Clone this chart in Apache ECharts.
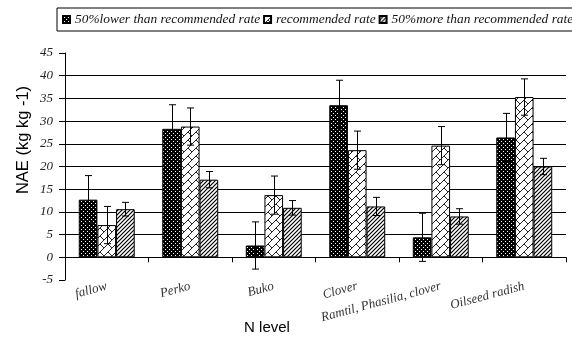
<!DOCTYPE html>
<html>
<head>
<meta charset="utf-8">
<script src="https://cdn.jsdelivr.net/npm/echarts@6/dist/echarts.min.js"></script>
<style>html,body{margin:0;padding:0;background:#fff}#c{width:572px;height:338px}</style>
</head>
<body>
<div id="c"></div>
<script>
var categories = ['fallow', 'Perko', 'Buko', 'Clover', 'Ramtil, Phasilia, clover', 'Oilseed radish'];
var seriesNames = ['50%lower than recommended rate', 'recommended rate', '50%more than recommended rate'];
var lowerRate = [12.7, 28.3, 2.6, 33.5, 4.4, 26.4];
var lowerErr = [5.3, 5.3, 5.2, 5.5, 5.3, 5.3];
var recRate = [7.1, 28.8, 13.7, 23.6, 24.6, 35.3];
var recErr = [4.1, 4.1, 4.2, 4.2, 4.2, 4.0];
var moreRate = [10.6, 17.1, 10.9, 11.2, 9.0, 20.0];
var moreErr = [1.5, 1.8, 1.6, 2.0, 1.7, 1.8];
var yTicks = [-5, 0, 5, 10, 15, 20, 25, 30, 35, 40, 45];

function tile(size, draw) {
  var c = document.createElement('canvas');
  c.width = size; c.height = size;
  var ctx = c.getContext('2d');
  draw(ctx, size);
  return c;
}
var patDots = tile(4, function (ctx) {
  ctx.fillStyle = '#000'; ctx.fillRect(0, 0, 4, 4);
  ctx.fillStyle = '#fff';
  ctx.fillRect(1, 1, 1, 1); ctx.fillRect(3, 3, 1, 1);
});
var patBrick = tile(8, function (ctx) {
  ctx.fillStyle = '#fff'; ctx.fillRect(0, 0, 8, 8);
  ctx.strokeStyle = '#222'; ctx.lineWidth = 1;
  ctx.beginPath();
  ctx.moveTo(-1, 9); ctx.lineTo(9, -1);
  ctx.moveTo(4, 4); ctx.lineTo(9, 9);
  ctx.moveTo(-1, -1); ctx.lineTo(0, 0);
  ctx.stroke();
});
var patHatch = tile(4, function (ctx) {
  ctx.fillStyle = '#fff'; ctx.fillRect(0, 0, 4, 4);
  ctx.strokeStyle = '#000'; ctx.lineWidth = 1.2;
  ctx.beginPath();
  ctx.moveTo(-1, 5); ctx.lineTo(5, -1);
  ctx.moveTo(-1, 1); ctx.lineTo(1, -1);
  ctx.moveTo(3, 5); ctx.lineTo(5, 3);
  ctx.stroke();
});
var patterns = [patDots, patBrick, patHatch];
var values = [lowerRate, recRate, moreRate];
var errs = [lowerErr, recErr, moreErr];

var series = [];
for (var s = 0; s < 3; s++) {
  series.push({
    name: seriesNames[s],
    type: 'bar',
    data: values[s],
    barGap: '0%',
    barCategoryGap: '33%',
    itemStyle: { color: { image: patterns[s], repeat: 'repeat' }, borderColor: '#000', borderWidth: 1 },
    z: 2
  });
}
for (var s2 = 0; s2 < 3; s2++) {
  (function (si) {
    var errData = values[si].map(function (v, i) { return [i, v - errs[si][i], v + errs[si][i]]; });
    series.push({
      type: 'custom',
      data: errData,
      z: 5,
      silent: true,
      renderItem: function (params, api) {
        var i = api.value(0);
        var lo = api.coord([i, api.value(1)]);
        var hi = api.coord([i, api.value(2)]);
        var catW = api.size([1, 0])[0];
        var barW = catW * 0.67 / 3;
        var x = Math.round(lo[0] + (si - 1) * barW) + 0.5;
        var cap = 3.5;
        var st = { stroke: '#000', lineWidth: 1 };
        return {
          type: 'group',
          children: [
            { type: 'line', shape: { x1: x, y1: lo[1], x2: x, y2: hi[1] }, style: st },
            { type: 'line', shape: { x1: x - cap, y1: hi[1], x2: x + cap, y2: hi[1] }, style: st },
            { type: 'line', shape: { x1: x - cap, y1: lo[1], x2: x + cap, y2: lo[1] }, style: st }
          ]
        };
      }
    });
  })(s2);
}

var chart = echarts.init(document.getElementById('c'), null, { renderer: 'canvas' });
chart.setOption({
  animation: false,
  backgroundColor: '#fff',
  legend: {
    data: seriesNames,
    left: 57, top: 8,
    width: 700,
    padding: [4, 6, 4, 5],
    borderColor: '#000', borderWidth: 1,
    itemWidth: 7, itemHeight: 7, itemGap: 3,
    icon: 'rect',
    textStyle: { fontFamily: 'Liberation Serif', fontStyle: 'italic', fontSize: 13.4, color: '#111', lineHeight: 15 }
  },
  grid: { left: 65, right: 6, top: 53, bottom: 58, containLabel: false, outerBoundsMode: 'none' },
  xAxis: {
    type: 'category',
    data: categories,
    axisLine: { onZero: true, lineStyle: { color: '#000', width: 1 } },
    axisTick: { show: true, alignWithLabel: false, length: 5, lineStyle: { color: '#000' } },
    axisLabel: { rotate: 15, margin: 6, interval: 0, fontFamily: 'Liberation Serif', fontStyle: 'italic', fontSize: 13, color: '#333' },
    splitLine: { show: false }
  },
  yAxis: {
    type: 'value',
    min: yTicks[0], max: yTicks[yTicks.length - 1], interval: 5,
    axisLine: { show: true, lineStyle: { color: '#000', width: 1 } },
    axisTick: { show: true, length: 6, lineStyle: { color: '#000' } },
    axisLabel: { margin: 12, fontFamily: 'Liberation Serif', fontStyle: 'italic', fontSize: 13, color: '#222' },
    splitLine: { show: true, showMinLine: false, showMaxLine: false, lineStyle: { color: '#000', width: 1 } }
  },
  graphic: [
    { type: 'text', x: 267, y: 328, style: { text: 'N level', fontFamily: 'Liberation Sans', fontSize: 15, fill: '#000', align: 'center', verticalAlign: 'middle' } },
    { type: 'text', x: 23, y: 140, rotation: Math.PI / 2, style: { text: 'NAE (kg kg -1)', fontFamily: 'Liberation Sans', fontSize: 16.5, fill: '#000', align: 'center', verticalAlign: 'middle' } }
  ],
  series: series
});
</script>
</body>
</html>
